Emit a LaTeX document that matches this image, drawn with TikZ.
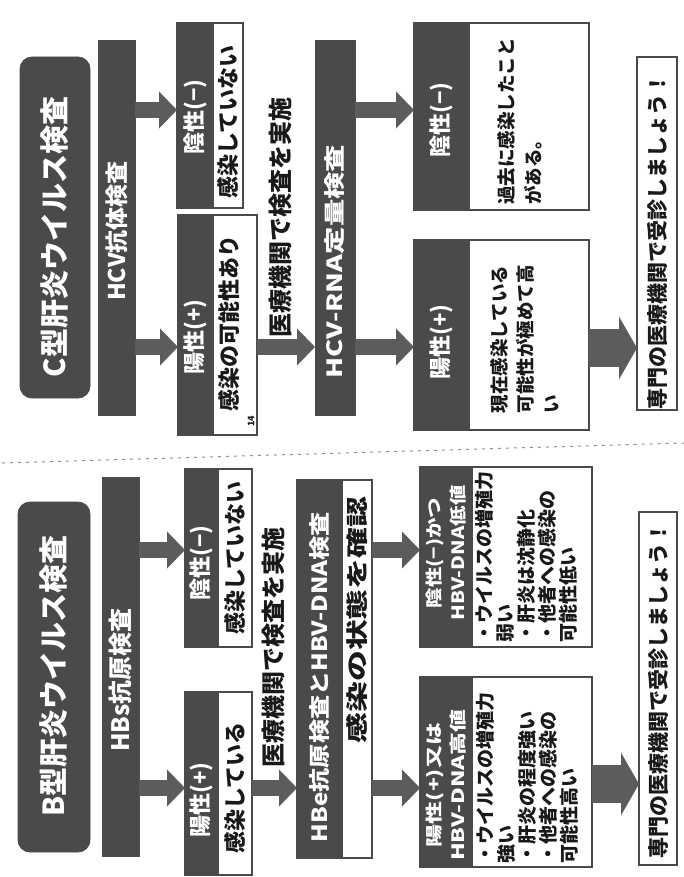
\documentclass[tikz,border=0pt]{standalone}
\usepackage{fontspec}
\setmainfont{Noto Sans CJK JP}
\usetikzlibrary{arrows.meta}
\definecolor{dk}{HTML}{4A4A4A}
\definecolor{ar}{HTML}{5C5C5C}
\newcommand{\fs}[1]{\fontsize{#1}{#1}\selectfont}
\tikzset{
  dkbox/.style={fill=dk, draw=dk, line width=0.8pt, inner sep=0pt, outer sep=0pt},
  ttlbox/.style={dkbox, rounded corners=12pt},
  wbox/.style={fill=white, draw=dk, line width=1.3pt, inner sep=0pt, outer sep=0pt},
  tx/.style={rotate=90, inner sep=0pt, outer sep=0pt, text=black!90, execute at begin node={\bfseries}},
  wtx/.style={tx, text=white},
  sarrow/.style={draw=ar, line width=16pt, -{Triangle[length=18pt,width=36pt]}},
  barrow/.style={draw=ar, line width=38pt, -{Triangle[length=18pt,width=62pt]}},
  sepline/.style={draw=black!45, line width=1pt, dash pattern=on 3pt off 5pt},
}
\begin{document}
\begin{tikzpicture}[x=1pt,y=-1pt]
\useasboundingbox (0,0) rectangle (684,877);
\draw[sepline] (2,463) -- (684,443);

% ================= C column =================
\node[ttlbox, minimum width=70pt, minimum height=341pt] (ctitle) at (55,227.5) {};
\node[wtx, font=\fs{29}] (ctitlet) at (55,237) {C型肝炎ウイルス検査};

\node[dkbox, minimum width=37pt, minimum height=375pt] (cbar1) at (116.5,227.5) {};
\node[wtx, font=\fs{23}] (cbar1t) at (116.5,231) {HCV抗体検査};

\node[wbox, minimum width=66pt, minimum height=185pt] (cneg1) at (210,115.5) {};
\node[dkbox, minimum width=36pt, minimum height=185pt] (cneg1h) at (195,115.5) {};
\node[wtx, font=\fs{22}] (cneg1ht) at (195,117) {陰性(−)};
\node[tx, font=\fs{22}] (cneg1t) at (228,122) {感染していない};

\node[wbox, minimum width=79pt, minimum height=220pt] (cpos1) at (217.5,325) {};
\node[dkbox, minimum width=35pt, minimum height=220pt] (cpos1h) at (195.5,325) {};
\node[wtx, font=\fs{22}] (cpos1ht) at (195.5,337) {陽性(+)};
\node[tx, font=\fs{22}] (cpos1t) at (229,323) {感染の可能性あり};
\node[tx, font=\fs{9}] (cmark) at (251,421) {14};

\draw[sarrow] (cbar1.east |- 0,110) -- (cneg1.west |- 0,110);
\draw[sarrow] (cbar1.east |- 0,347) -- (cpos1.west |- 0,347);

\node[tx, font=\fs{24}] (cmed) at (280,217) {医療機関で検査を実施};

\node[dkbox, minimum width=40pt, minimum height=375pt] (cbar2) at (335,227.5) {};
\node[wtx, font=\fs{21}, xscale=1.3] (cbar2t) at (335,262) {HCV-RNA定量検査};
\draw[sarrow] (cpos1.east |- 0,347) -- (cbar2.west |- 0,347);

\node[wbox, minimum width=175pt, minimum height=187pt] (cneg2) at (501.5,116.5) {};
\node[dkbox, minimum width=55pt, minimum height=187pt] (cneg2h) at (441.5,116.5) {};
\node[wtx, font=\fs{22}] (cneg2ht) at (441.5,120) {陰性(−)};
\node[tx, font=\fontsize{18.5}{27}\selectfont, align=left, anchor=north west] (cneg2t) at (497,205) {過去に感染したこと\\がある。};

\node[wbox, minimum width=175pt, minimum height=190pt] (cpos2) at (501.5,335) {};
\node[dkbox, minimum width=55pt, minimum height=190pt] (cpos2h) at (441.5,335) {};
\node[wtx, font=\fs{22}] (cpos2ht) at (441.5,342) {陽性(+)};
\node[tx, font=\fontsize{18.5}{26}\selectfont, align=left, anchor=north west] (cpos2t) at (490,413) {現在感染している\\可能性が極めて高\\い};

\draw[sarrow] (cbar2.east |- 0,110) -- (cneg2.west |- 0,110);
\draw[sarrow] (cbar2.east |- 0,347) -- (cpos2.west |- 0,347);

\node[wbox, minimum width=40pt, minimum height=353pt] (cfinal) at (657,233.5) {};
\node[tx, font=\fs{21}] (cfinalt) at (657,241) {専門の医療機関で受診しましょう！};
\draw[barrow] (cpos2.east |- 0,348) -- (cfinal.west |- 0,348);

% ================= B column =================
\node[ttlbox, minimum width=72pt, minimum height=350pt] (btitle) at (54,677) {};
\node[wtx, font=\fs{29}] (btitlet) at (54,676) {B型肝炎ウイルス検査};

\node[dkbox, minimum width=37pt, minimum height=379pt] (bbar1) at (120.5,666.5) {};
\node[wtx, font=\fs{24}] (bbar1t) at (120.5,680) {HBs抗原検査};

\node[wbox, minimum width=67pt, minimum height=178pt] (bneg1) at (218.5,558) {};
\node[dkbox, minimum width=33pt, minimum height=178pt] (bneg1h) at (201.5,558) {};
\node[wtx, font=\fs{22}] (bneg1ht) at (201.5,563) {陰性(−)};
\node[tx, font=\fs{22}] (bneg1t) at (235,558) {感染していない};

\node[wbox, minimum width=67pt, minimum height=183pt] (bpos1) at (218.5,783.5) {};
\node[dkbox, minimum width=33pt, minimum height=183pt] (bpos1h) at (201.5,783.5) {};
\node[wtx, font=\fs{22}] (bpos1ht) at (201.5,800) {陽性(+)};
\node[tx, font=\fs{22}] (bpos1t) at (235,788) {感染している};

\draw[sarrow] (bbar1.east |- 0,550) -- (bneg1.west |- 0,550);
\draw[sarrow] (bbar1.east |- 0,788) -- (bpos1.west |- 0,788);

\node[tx, font=\fs{24}] (bmed) at (273,647) {医療機関で検査を実施};

\node[wbox, minimum width=75pt, minimum height=378pt] (bbar2) at (334.5,669) {};
\node[dkbox, minimum width=45pt, minimum height=378pt] (bbar2h) at (319.5,669) {};
\node[wtx, font=\fs{21}, xscale=1.15] (bbar2ht) at (319.5,677) {HBe抗原検査とHBV-DNA検査};
\node[tx, font=\fs{22}, xscale=1.4] (bbar2t) at (357,620) {感染の状態を確認};
\draw[sarrow] (bpos1.east |- 0,788) -- (bbar2.west |- 0,788);

\node[wbox, minimum width=172pt, minimum height=180pt] (bneg2) at (506,557) {};
\node[dkbox, minimum width=52pt, minimum height=180pt] (bneg2h) at (446,557) {};
\node[wtx, font=\fontsize{17}{24}\selectfont, align=center, xscale=1.2] (bneg2ht) at (446,553) {陰性(−)かつ\\HBV-DNA低値};
\node[tx, font=\fontsize{19}{21}\selectfont, align=left, anchor=north west] (bneg2t) at (475,642) {・ウイルスの増殖力\\弱い\\・肝炎は沈静化\\・他者への感染の\\可能性低い};

\node[wbox, minimum width=172pt, minimum height=190pt] (bpos2) at (506,772) {};
\node[dkbox, minimum width=52pt, minimum height=190pt] (bpos2h) at (446,772) {};
\node[wtx, font=\fontsize{17}{24}\selectfont, align=center, xscale=1.35] (bpos2ht) at (446,785) {陽性(+)又は\\HBV-DNA高値};
\node[tx, font=\fontsize{19}{21}\selectfont, align=left, anchor=north west] (bpos2t) at (476,863) {・ウイルスの増殖力\\強い\\・肝炎の程度強い\\・他者への感染の\\可能性高い};

\draw[sarrow] (bbar2.east |- 0,550) -- (bneg2.west |- 0,550);
\draw[sarrow] (bbar2.east |- 0,788) -- (bpos2.west |- 0,788);

\node[wbox, minimum width=38pt, minimum height=353pt] (bfinal) at (658,688.5) {};
\node[tx, font=\fs{21}] (bfinalt) at (658,690) {専門の医療機関で受診しましょう！};
\draw[barrow] (bpos2.east |- 0,784) -- (bfinal.west |- 0,784);
\end{tikzpicture}
\end{document}
